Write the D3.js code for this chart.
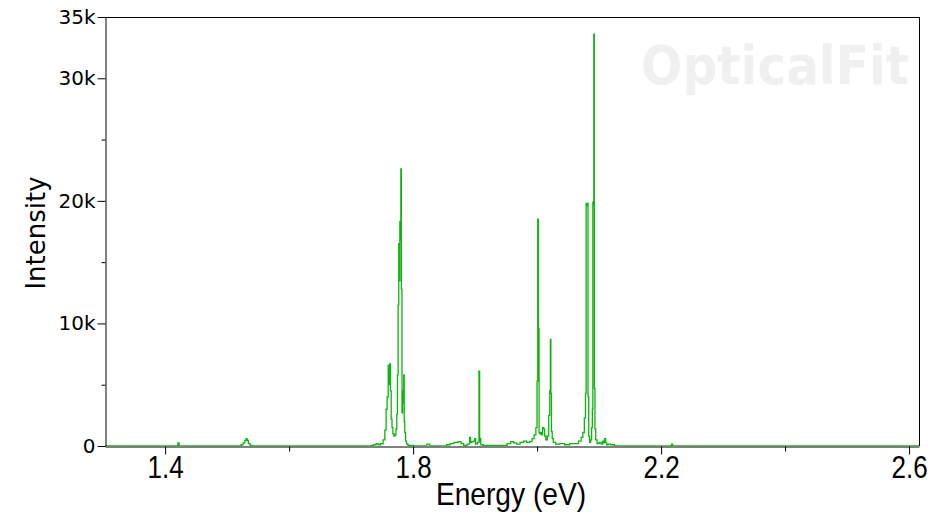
<!DOCTYPE html>
<html><head><meta charset="utf-8">
<script src="https://cdn.jsdelivr.net/npm/d3@7"></script>
<style>body{margin:0;background:#fff}svg{display:block}</style>
</head><body>
<svg id="c" width="936" height="525"></svg>
<script>
// Spectrum: energy (eV) and intensity (counts)
const energy = [1.3030,1.4194,1.4218,1.4234,1.5210,1.5242,1.5274,1.5298,1.5315,1.5331,1.5355,1.5387,1.5419,
1.7306,1.7339,1.7387,1.7419,1.7452,1.7500,1.7532,1.7556,1.7573,1.7589,1.7608,1.7618,1.7629,1.7640,1.7653,1.7666,1.7682,1.7698,1.7715,1.7731,1.7742,1.7753,1.7763,1.7774,1.7782,1.7790,1.7798,1.7806,1.7815,1.7826,1.7834,1.7844,1.7852,1.7860,1.7871,1.7887,1.7903,1.7935,1.8000,1.8016,
1.8210,1.8234,1.8258,1.8274,1.8516,1.8565,1.8629,1.8694,1.8758,1.8790,1.8839,1.8903,1.8919,1.8935,1.8960,1.8984,1.9000,1.9016,1.9056,1.9069,1.9077,1.9085,1.9097,1.9161,1.9290,1.9484,1.9548,1.9597,1.9645,1.9694,1.9758,1.9806,1.9855,1.9903,1.9935,1.9968,1.9992,
2.0005,2.0016,2.0027,2.0037,2.0048,2.0065,2.0081,2.0097,2.0113,2.0129,2.0153,2.0177,2.0198,2.0210,2.0218,2.0226,2.0237,2.0250,2.0274,2.0323,2.0403,2.0484,2.0565,2.0645,2.0694,2.0726,2.0750,2.0774,2.0787,2.0795,2.0806,2.0816,2.0826,2.0839,2.0855,2.0871,2.0887,2.0895,2.0903,2.0911,2.0919,2.0927,2.0939,2.0952,2.0984,2.1016,2.1048,2.1065,2.1081,2.1097,2.1113,2.1129,2.1161,2.1210,2.1290,2.2161,2.2177,2.2194,2.6160];
const intensity = [0,0,250,0,0,100,250,450,600,450,200,50,0,
0,50,100,200,100,200,500,1300,3000,4000,6600,5000,6700,4500,2200,1500,1000,800,900,1400,2600,5800,11500,16500,13500,18300,16800,22600,12800,2700,4500,3500,5800,2000,1100,400,150,50,50,0,
0,150,150,0,0,100,200,300,350,200,50,150,700,300,350,400,600,150,300,6100,400,600,100,50,50,50,200,350,250,150,300,400,300,350,600,900,1500,
5300,18500,9600,1100,1000,1100,900,1500,1400,800,500,800,2500,4500,8700,4300,1200,600,300,150,200,100,200,200,400,700,1100,2300,4300,19800,19600,19800,4000,800,300,500,1500,3000,19900,19700,33600,4700,1400,500,200,300,150,400,250,600,300,100,150,100,0,0,150,0,0];
const yTicks = [0,10000,20000,30000,35000];
const yMinor = [5000,15000,25000];
const xTicks = [1.4,1.8,2.2,2.6];
const xMinor = [1.6,2.0,2.4];
const xLabel = "Energy (eV)";
const yLabel = "Intensity";
const watermark = "OpticalFit";

const svg = d3.select("#c");
const L=105,R=919,T=17,B=446;
const x = d3.scaleLinear().domain([1.303,2.616]).range([L,R]);
const y = d3.scaleLinear().domain([0,35000]).range([B,T]);
const fmtK = d => d===0 ? "0" : (d/1000)+"k";

// watermark
svg.append("text").attr("x",641).attr("y",84).attr("textLength",268).attr("lengthAdjust","spacingAndGlyphs")
  .attr("font-family","DejaVu Sans").attr("font-weight","bold").attr("font-size",53)
  .attr("fill","#f0f0f0").text(watermark);

svg.append("clipPath").attr("id","cp").append("rect").attr("x",L).attr("y",T).attr("width",R-L).attr("height",B-T);

const pts = energy.map((e,i)=>[e,intensity[i]]);
svg.append("path").attr("clip-path","url(#cp)").datum(pts)
  .attr("fill","none").attr("stroke","#0db40d").attr("stroke-width",1.3)
  .attr("d", d3.line().x(d=>x(d[0])).y(d=>y(d[1])).curve(d3.curveStep));

// border top/right
svg.append("line").attr("x1",L).attr("x2",R).attr("y1",T+0.5).attr("y2",T+0.5).attr("stroke","#000");
svg.append("line").attr("x1",R+0.5).attr("x2",R+0.5).attr("y1",T).attr("y2",B).attr("stroke","#000");

// y axis
const ya = svg.append("g").attr("transform",`translate(${L+0.5},0)`)
  .call(d3.axisLeft(y).tickValues(yTicks).tickFormat(fmtK).tickSizeInner(8).tickSizeOuter(0).tickPadding(2));
ya.selectAll("text").attr("font-family","DejaVu Sans").attr("font-size",20).attr("fill","#000");
svg.append("g").attr("transform",`translate(${L+0.5},0)`)
  .call(d3.axisLeft(y).tickValues(yMinor).tickFormat("").tickSizeInner(4).tickSizeOuter(0))
  .select(".domain").remove();

// x axis
const xa = svg.append("g").attr("transform",`translate(0,${B+0.5})`)
  .call(d3.axisBottom(x).tickValues(xTicks).tickFormat(d3.format(".1f")).tickSizeInner(8).tickSizeOuter(0).tickPadding(2));
xa.selectAll(".tick text").attr("font-family","Liberation Sans").attr("font-size",31).attr("fill","#000")
  .attr("transform","scale(0.84,1)");
svg.append("g").attr("transform",`translate(0,${B+0.5})`)
  .call(d3.axisBottom(x).tickValues(xMinor).tickFormat("").tickSizeInner(5).tickSizeOuter(0))
  .select(".domain").remove();
svg.selectAll(".domain").attr("stroke","#000");

// axis titles
svg.append("text").attr("transform",`translate(511,505) scale(0.88,1)`).attr("text-anchor","middle")
  .attr("font-family","Liberation Sans").attr("font-size",32).attr("fill","#000").text(xLabel);
svg.append("text").attr("transform","translate(45,233) rotate(-90)").attr("text-anchor","middle")
  .attr("font-family","DejaVu Sans").attr("font-size",26).attr("fill","#000").text(yLabel);
</script>
</body></html>
